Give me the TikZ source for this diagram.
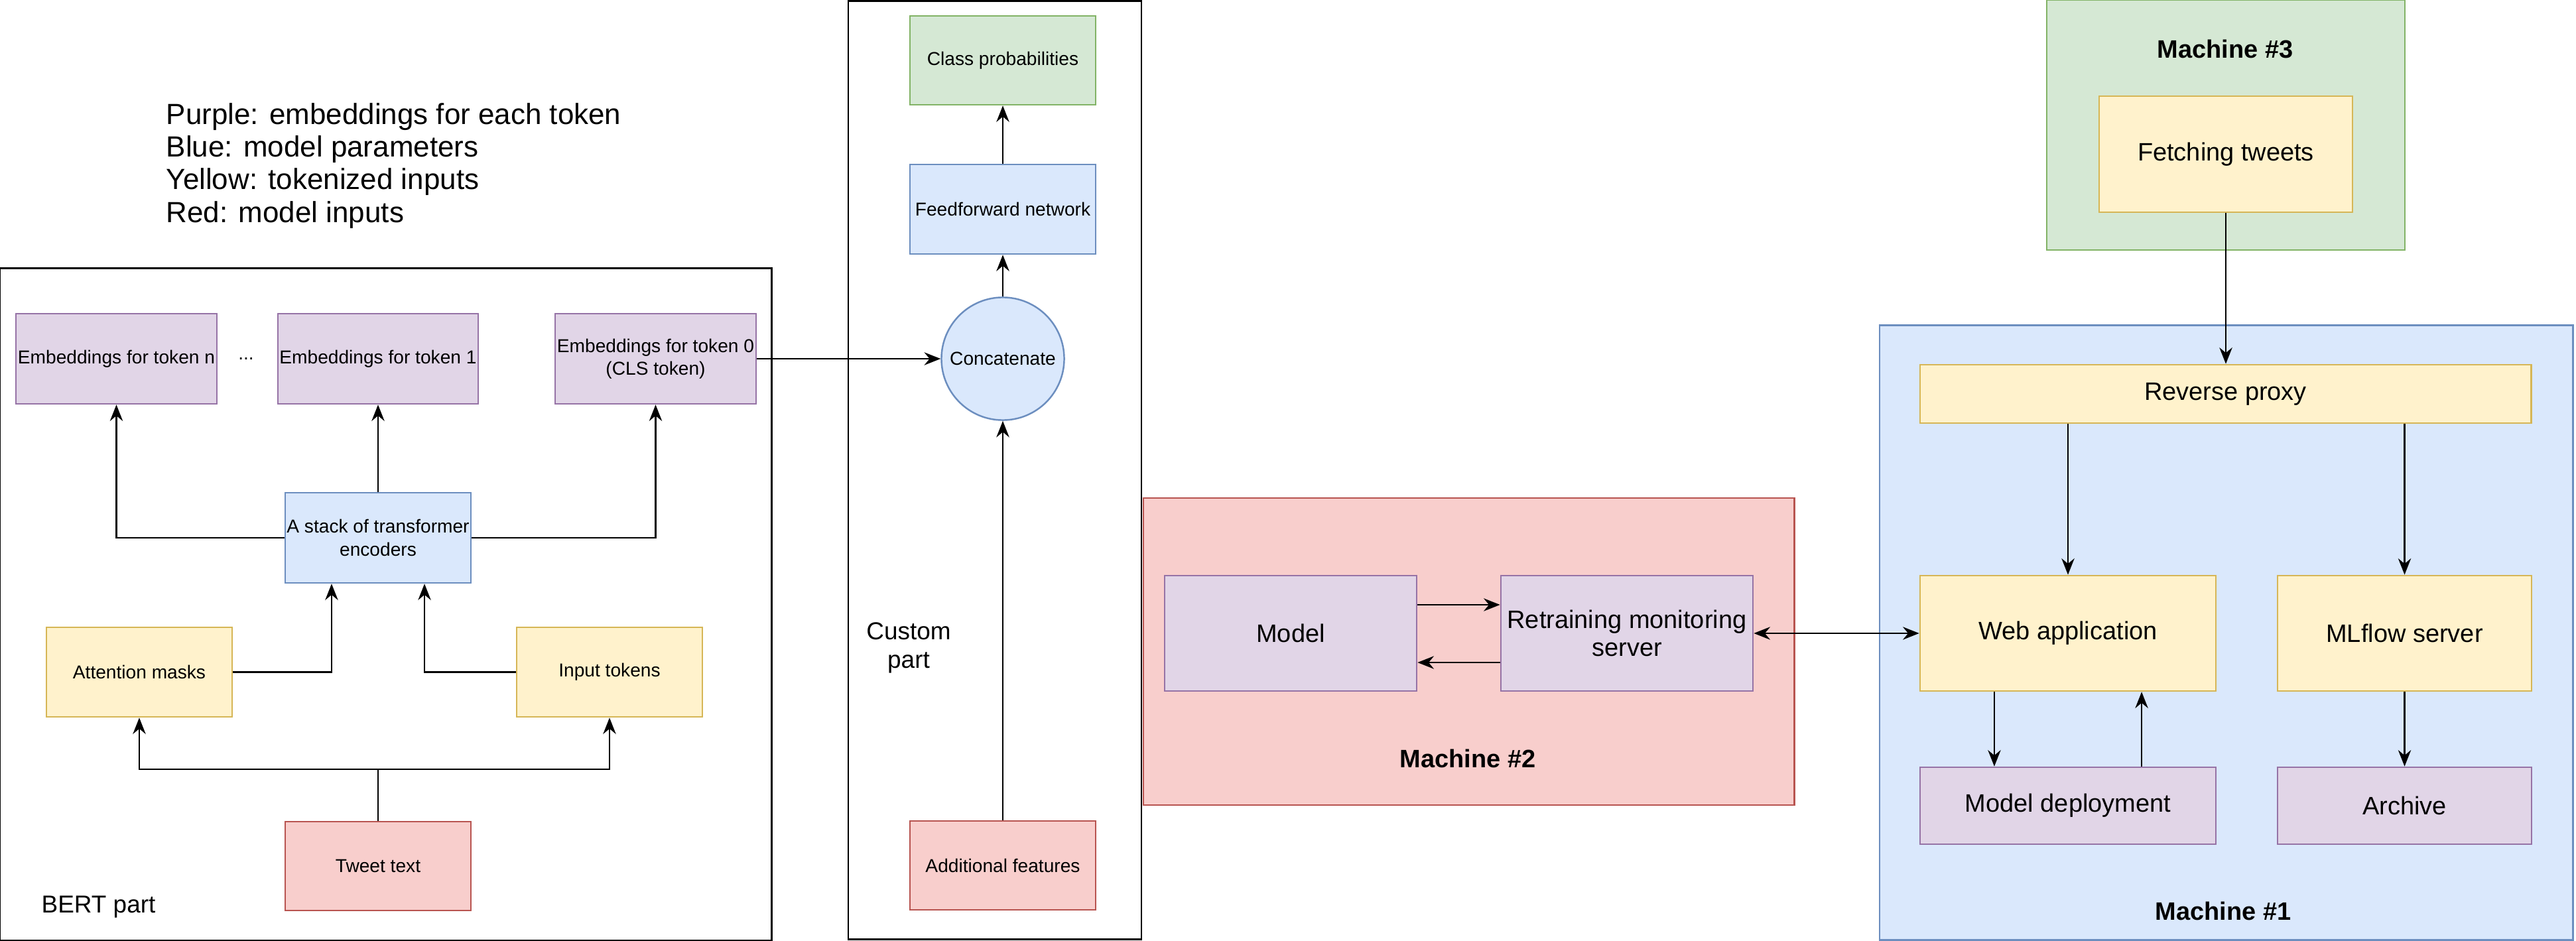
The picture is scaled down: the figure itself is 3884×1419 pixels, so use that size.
\documentclass[tikz,border=0pt]{standalone}
\usepackage{fontspec}
\setmainfont{Liberation Sans}
\usepackage{tikz}
\usetikzlibrary{arrows.meta}

\definecolor{purplefill}{HTML}{E1D5E7}
\definecolor{purpleline}{HTML}{9673A6}
\definecolor{bluefill}{HTML}{DAE8FC}
\definecolor{blueline}{HTML}{6C8EBF}
\definecolor{yellowfill}{HTML}{FFF2CC}
\definecolor{yellowline}{HTML}{D6B656}
\definecolor{redfill}{HTML}{F8CECC}
\definecolor{redline}{HTML}{B85450}
\definecolor{greenfill}{HTML}{D5E8D4}
\definecolor{greenline}{HTML}{82B366}

\tikzset{
    box/.style={draw, rectangle, align=center, inner sep=0pt, line width=0.7pt, font=\fontsize{8}{9.8}\selectfont},
    bigtext/.style={font=\fontsize{10.8}{12}\selectfont},
    purplebox/.style={box, fill=purplefill, draw=purpleline},
    bluebox/.style={box, fill=bluefill, draw=blueline},
    yellowbox/.style={box, fill=yellowfill, draw=yellowline},
    redbox/.style={box, fill=redfill, draw=redline},
    greenbox/.style={box, fill=greenfill, draw=greenline},
    frame/.style={draw, rectangle, inner sep=0pt, line width=0.7pt},
    partlabel/.style={inner sep=0pt, align=center, font=\fontsize{10.5}{12}\selectfont},
    machinelabel/.style={inner sep=0pt, font=\fontsize{10.8}{12}\selectfont\bfseries},
    arr/.style={-{Stealth[length=7pt,width=5.5pt]}, line width=0.7pt},
    dblarr/.style={{Stealth[length=7pt,width=5.5pt]}-{Stealth[length=7pt,width=5.5pt]}, line width=0.7pt}
}

\begin{document}
\begin{tikzpicture}[x=0.01cm,y=-0.01cm]

    \useasboundingbox (0,0) rectangle (3884,1419);

    % legend
    \node[anchor=west, align=left, inner sep=0pt, font=\fontsize{12.5}{14}\selectfont] (legend) at (250,250)
        {Purple: embeddings for each token\\Blue: model parameters\\Yellow: tokenized inputs\\Red: model inputs};

    % BERT part
    \node[frame, minimum width=11.63cm, minimum height=10.13cm] (bertpart) at (581.5,911.5) {};
    \node[partlabel, anchor=west] (bertlabel) at (62,1368) {BERT part};

    \node[purplebox, minimum width=3.03cm, minimum height=1.36cm] (embN) at (175.5,541) {Embeddings for token n};
    \node[inner sep=0pt, font=\fontsize{8}{9.8}\selectfont] (dots) at (371,541) {...};
    \node[purplebox, minimum width=3.02cm, minimum height=1.36cm] (embOne) at (570,541) {Embeddings for token 1};
    \node[purplebox, minimum width=3.03cm, minimum height=1.36cm] (embZero) at (988.5,541) {Embeddings for token 0\\(CLS token)};

    \node[bluebox, minimum width=2.8cm, minimum height=1.36cm] (stack) at (570,811) {A stack of transformer\\encoders};

    \node[yellowbox, minimum width=2.8cm, minimum height=1.35cm] (masks) at (210,1013.5) {Attention masks};
    \node[yellowbox, minimum width=2.8cm, minimum height=1.35cm] (tokens) at (919,1013.5) {Input tokens};

    \node[redbox, minimum width=2.8cm, minimum height=1.34cm] (tweet) at (570,1306) {Tweet text};

    \draw[arr] (stack.west) -| (embN.south);
    \draw[arr] (stack.north) -- (embOne.south);
    \draw[arr] (stack.east) -| (embZero.south);
    \draw[arr] (masks.east) -| ([xshift=-0.7cm]stack.south);
    \draw[arr] (tokens.west) -| ([xshift=0.7cm]stack.south);
    \coordinate (split) at (570,1160);
    \draw[arr] (tweet.north) -- (split) -| (masks.south);
    \draw[arr] (split) -| (tokens.south);

    % custom part
    \node[frame, minimum width=4.42cm, minimum height=14.14cm] (custompart) at (1500,709) {};
    \node[partlabel] (customlabel) at (1370,977) {Custom\\part};

    \node[greenbox, minimum width=2.8cm, minimum height=1.34cm] (classprob) at (1512,91) {Class probabilities};
    \node[bluebox, minimum width=2.8cm, minimum height=1.35cm] (ffn) at (1512,315.5) {Feedforward network};
    \node[bluebox, circle, minimum size=1.85cm] (concat) at (1512,541) {Concatenate};
    \node[redbox, minimum width=2.8cm, minimum height=1.34cm] (addfeat) at (1512,1305) {Additional features};

    \draw[arr] (embZero.east) -- (concat.west);
    \draw[arr] (addfeat.north) -- (concat.south);
    \draw[arr] (concat.north) -- (ffn.south);
    \draw[arr] (ffn.north) -- (classprob.south);

    % machine #2
    \node[frame, fill=redfill, draw=redline, minimum width=9.81cm, minimum height=4.63cm] (machineTwo) at (2214.5,982.5) {};
    \node[machinelabel] (machineTwoLabel) at (2213,1144) {Machine \#2};
    \node[purplebox, bigtext, minimum width=3.8cm, minimum height=1.74cm] (model) at (1946,955) {Model};
    \node[purplebox, bigtext, minimum width=3.8cm, minimum height=1.74cm] (retrain) at (2453,955) {Retraining monitoring\\server};

    \draw[arr] ([yshift=0.43cm]model.east) -- ([yshift=0.43cm]retrain.west);
    \draw[arr] ([yshift=-0.44cm]retrain.west) -- ([yshift=-0.44cm]model.east);

    % machine #1
    \node[frame, fill=bluefill, draw=blueline, minimum width=10.45cm, minimum height=9.26cm] (machineOne) at (3356.5,954) {};
    \node[machinelabel] (machineOneLabel) at (3352,1374) {Machine \#1};
    \node[yellowbox, bigtext, minimum width=9.21cm, minimum height=0.88cm] (proxy) at (3355.5,594) {Reverse proxy};
    \node[yellowbox, bigtext, minimum width=4.46cm, minimum height=1.74cm] (webapp) at (3118,955) {Web application};
    \node[yellowbox, bigtext, minimum width=3.83cm, minimum height=1.74cm] (mlflow) at (3625.5,955) {MLflow server};
    \node[purplebox, bigtext, minimum width=4.46cm, minimum height=1.16cm] (deploy) at (3118,1215) {Model deployment};
    \node[purplebox, bigtext, minimum width=3.83cm, minimum height=1.16cm] (archive) at (3625.5,1215) {Archive};

    \draw[dblarr] (retrain.east) -- (webapp.west);
    \draw[arr] (proxy.south -| webapp.north) -- (webapp.north);
    \draw[arr] (proxy.south -| mlflow.north) -- (mlflow.north);
    \draw[arr] ([xshift=-1.11cm]webapp.south) -- ([xshift=-1.11cm]deploy.north);
    \draw[arr] ([xshift=1.11cm]deploy.north) -- ([xshift=1.11cm]webapp.south);
    \draw[arr] (mlflow.south) -- (archive.north);

    % machine #3
    \node[frame, fill=greenfill, draw=greenline, minimum width=5.4cm, minimum height=3.77cm] (machineThree) at (3356,188.5) {};
    \node[machinelabel] (machineThreeLabel) at (3355,74) {Machine \#3};
    \node[yellowbox, bigtext, minimum width=3.82cm, minimum height=1.75cm] (fetch) at (3356,232.5) {Fetching tweets};

    \draw[arr] (fetch.south) -- (proxy.north -| fetch.south);

\end{tikzpicture}
\end{document}
